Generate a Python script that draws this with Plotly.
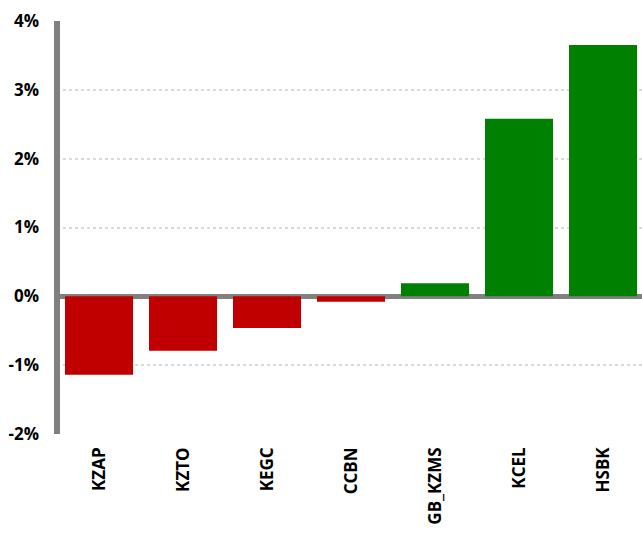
import plotly.graph_objects as go

categories = ["KZAP", "KZTO", "KEGC", "CCBN", "GB_KZMS", "KCEL", "HSBK"]
values = [-1.14, -0.79, -0.46, -0.08, 0.19, 2.58, 3.65]
tick_vals = [-2, -1, 0, 1, 2, 3, 4]
tick_text = ["-2%", "-1%", "0%", "1%", "2%", "3%", "4%"]

colors = ["#C00000" if v < 0 else "#008000" for v in values]

fig = go.Figure(go.Bar(x=categories, y=values, marker=dict(color=colors, line=dict(width=0)),
                       width=0.81))

font = dict(family="Open Sans", size=17, color="black", weight="bold")

fig.update_layout(
    width=642, height=534,
    margin=dict(l=57, r=0, t=21, b=100),
    plot_bgcolor="white", paper_bgcolor="white",
    showlegend=False,
    xaxis=dict(range=[-0.5, 6.464], tickangle=-90, tickfont=font, showgrid=False,
               showline=False, ticks="", ticklabelstandoff=9),
    yaxis=dict(range=[-2, 4], tickvals=tick_vals, ticktext=tick_text, tickfont=font,
               showgrid=True, gridcolor="#d9d9d9", gridwidth=2, griddash="dot",
               zeroline=True, zerolinecolor="#808080", zerolinewidth=5,
               showline=False, ticks="", ticklabelstandoff=17),
    shapes=[dict(type="line", xref="paper", x0=0, x1=0, yref="y", y0=-2, y1=4,
                 line=dict(color="#808080", width=6), layer="above")],
)

fig.write_html(
    "out.html",
    config={"displayModeBar": False},
    post_script="document.body.style.margin='0';document.body.style.overflow='hidden';",
)
